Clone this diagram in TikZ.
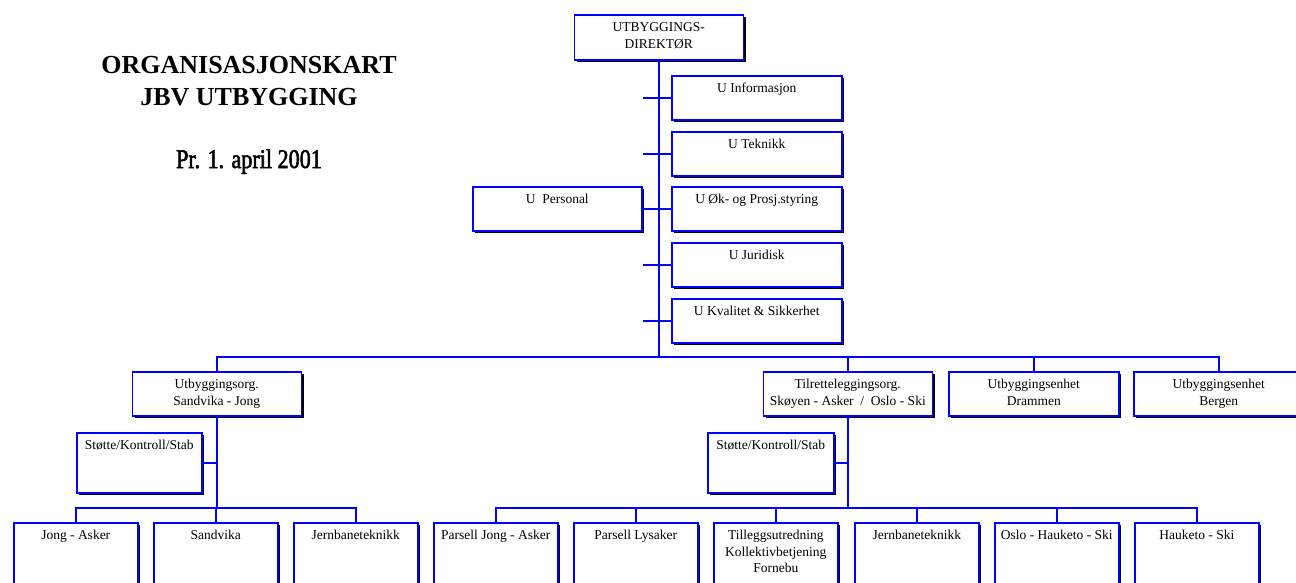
\documentclass[tikz,border=0pt]{standalone}
\usepackage{fontspec}
\setmainfont{Liberation Serif}
\newfontfamily\condfont[FakeStretch=0.82,FakeBold=2]{Liberation Serif}
\usetikzlibrary{shadows}
\definecolor{lineblue}{RGB}{0,0,255}
\tikzset{
  box/.style={draw=lineblue, line width=1.5pt, fill=white, inner sep=0pt, anchor=north west,
    font=\fontsize{13.5}{16.5}\selectfont,
    drop shadow={shadow xshift=2.5pt, shadow yshift=-2.5pt, opacity=1, fill=black}},
  conn/.style={draw=lineblue, line width=1.5pt},
  title/.style={font=\bfseries\fontsize{26}{32}\selectfont, anchor=base, inner sep=0pt},
}
\newcommand\bx[6]{\node[box] (#1) at (#2,#3) {\parbox[c][#5pt][t]{#4pt}{\centering\rule{0pt}{17pt}#6}};}
\begin{document}
\begin{tikzpicture}[x=1pt,y=-1pt]
\useasboundingbox (0,0) rectangle (1296,582);
\clip (0,0) rectangle (1296,582);
% title
\node[title] (t1) at (249,73) {ORGANISASJONSKART};
\node[title] (t2) at (249,105) {JBV UTBYGGING};
\node[font=\condfont\fontsize{27}{30}\selectfont, anchor=base, inner sep=0pt] (t3) at (249,168) {Pr. 1. april 2001};
% coordinates
\coordinate (stubx) at (643,0);
\coordinate (bus) at (0,357);
\coordinate (busb) at (0,508);
% boxes
\bx{dir}{573.5}{14}{169}{45}{UTBYGGINGS-\\DIREKTØR}
\bx{info}{671}{75}{170}{44}{U Informasjon}
\bx{tek}{671}{131}{170}{44}{U Teknikk}
\bx{ok}{671}{186}{170}{44}{U Øk- og Prosj.styring}
\bx{jur}{671}{242}{170}{44}{U Juridisk}
\bx{kval}{671}{298}{170}{44}{U Kvalitet \& Sikkerhet}
\bx{pers}{472}{186}{169}{44}{U\ \ Personal}
\bx{sj}{131.5}{371}{169}{44}{Utbyggingsorg.\\Sandvika - Jong}
\bx{ta}{762.5}{371}{169}{44}{Tilretteleggingsorg.\\Skøyen - Asker\ \ /\ \ Oslo - Ski}
\bx{dr}{948}{371}{170}{44}{Utbyggingsenhet\\Drammen}
\bx{be}{1133}{371}{170}{44}{Utbyggingsenhet\\Bergen}
\bx{st1}{76}{432}{125}{60}{Støtte/Kontroll/Stab}
\bx{st2}{707}{432}{126}{60}{Støtte/Kontroll/Stab}
\bx{ja}{13}{522}{124}{80}{Jong - Asker}
\bx{sa}{153}{522}{124}{80}{Sandvika}
\bx{jt1}{293}{522}{124}{80}{Jernbaneteknikk}
\bx{pja}{433}{522}{124}{80}{Parsell Jong - Asker}
\bx{ply}{573}{522}{124}{80}{Parsell Lysaker}
\bx{til}{713}{522}{124}{80}{Tilleggsutredning\\Kollektivbetjening\\Fornebu}
\bx{jt2}{854}{522}{124}{80}{Jernbaneteknikk}
\bx{ohs}{994}{522}{124}{80}{Oslo - Hauketo - Ski}
\bx{hs}{1134}{522}{124}{80}{Hauketo - Ski}
% top spine
\draw[conn] (dir.south) -- (dir.south |- bus);
\draw[conn] (info.west) -- (info.west -| stubx);
\draw[conn] (tek.west) -- (tek.west -| stubx);
\draw[conn] (jur.west) -- (jur.west -| stubx);
\draw[conn] (kval.west) -- (kval.west -| stubx);
\draw[conn] (pers.east) -- (ok.west);
% main bus
\draw[conn] (sj.north) -- (sj.north |- bus) -- (be.north |- bus) -- (be.north);
\draw[conn] (ta.north) -- (ta.north |- bus);
\draw[conn] (dr.north) -- (dr.north |- bus);
% left subtree
\draw[conn] (sj.south) -- (sj.south |- busb);
\draw[conn] (st1.east) -- (st1.east -| sj.south);
\draw[conn] (ja.north) -- (ja.north |- busb) -- (jt1.north |- busb) -- (jt1.north);
\draw[conn] (sa.north) -- (sa.north |- busb);
% right subtree
\draw[conn] (ta.south) -- (ta.south |- busb);
\draw[conn] (st2.east) -- (st2.east -| ta.south);
\draw[conn] (pja.north) -- (pja.north |- busb) -- (hs.north |- busb) -- (hs.north);
\draw[conn] (ply.north) -- (ply.north |- busb);
\draw[conn] (til.north) -- (til.north |- busb);
\draw[conn] (jt2.north) -- (jt2.north |- busb);
\draw[conn] (ohs.north) -- (ohs.north |- busb);
\end{tikzpicture}
\end{document}
